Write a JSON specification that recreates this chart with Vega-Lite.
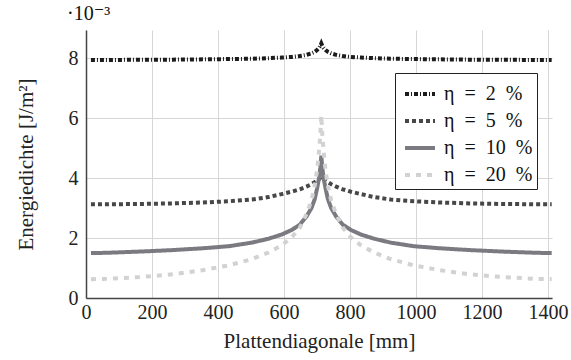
{
  "$schema": "https://vega.github.io/schema/vega-lite/v6.json",
  "width": 466,
  "height": 268,
  "autosize": {"type": "none"},
  "padding": {"left": 86, "top": 30, "right": 19, "bottom": 62},
  "background": "white",
  "config": {
    "view": {"stroke": null},
    "font": "'Liberation Serif', 'DejaVu Serif', serif",
    "legend": {
      "orient": "none",
      "legendX": 309,
      "legendY": 43,
      "strokeColor": "#222",
      "fillColor": "white",
      "padding": 4,
      "rowPadding": -1,
      "symbolType": "stroke",
      "symbolStrokeWidth": 4,
      "symbolSize": 900,
      "labelFont": "'Liberation Serif', 'DejaVu Serif', serif",
      "labelFontSize": 20,
      "labelColor": "#111",
      "labelOffset": 7,
      "symbolOffset": 4
    }
  },
  "title": {
    "text": "·10⁻³",
    "anchor": "start",
    "frame": "group",
    "dx": -19,
    "offset": 6,
    "fontSize": 20,
    "fontWeight": "normal",
    "font": "'Liberation Serif', 'DejaVu Serif', serif",
    "color": "#111"
  },
  "data": {
    "values": [
      {"x": 15, "η = 2 %": 0.00795, "η = 5 %": 0.00313, "η = 10 %": 0.00150, "η = 20 %": 0.00063},
      {"x": 63, "η = 2 %": 0.00795, "η = 5 %": 0.00313, "η = 10 %": 0.00151, "η = 20 %": 0.00064},
      {"x": 163, "η = 2 %": 0.007955, "η = 5 %": 0.00314, "η = 10 %": 0.00155, "η = 20 %": 0.00070},
      {"x": 263, "η = 2 %": 0.00796, "η = 5 %": 0.00316, "η = 10 %": 0.00160, "η = 20 %": 0.00079},
      {"x": 353, "η = 2 %": 0.00797, "η = 5 %": 0.00319, "η = 10 %": 0.00166, "η = 20 %": 0.00093},
      {"x": 433, "η = 2 %": 0.00798, "η = 5 %": 0.00323, "η = 10 %": 0.00173, "η = 20 %": 0.00109},
      {"x": 503, "η = 2 %": 0.00799, "η = 5 %": 0.00329, "η = 10 %": 0.00185, "η = 20 %": 0.00130},
      {"x": 553, "η = 2 %": 0.00801, "η = 5 %": 0.00337, "η = 10 %": 0.00198, "η = 20 %": 0.00152},
      {"x": 593, "η = 2 %": 0.00803, "η = 5 %": 0.00347, "η = 10 %": 0.00212, "η = 20 %": 0.00176},
      {"x": 623, "η = 2 %": 0.00805, "η = 5 %": 0.00355, "η = 10 %": 0.00227, "η = 20 %": 0.00202},
      {"x": 648, "η = 2 %": 0.00808, "η = 5 %": 0.00363, "η = 10 %": 0.00245, "η = 20 %": 0.00235},
      {"x": 668, "η = 2 %": 0.00812, "η = 5 %": 0.00372, "η = 10 %": 0.00272, "η = 20 %": 0.00280},
      {"x": 683, "η = 2 %": 0.00817, "η = 5 %": 0.00380, "η = 10 %": 0.00300, "η = 20 %": 0.00325},
      {"x": 693, "η = 2 %": 0.00822, "η = 5 %": 0.00387, "η = 10 %": 0.00330, "η = 20 %": 0.00375},
      {"x": 700, "η = 2 %": 0.00828, "η = 5 %": 0.00392, "η = 10 %": 0.00365, "η = 20 %": 0.00425},
      {"x": 706, "η = 2 %": 0.00835, "η = 5 %": 0.00397, "η = 10 %": 0.00400, "η = 20 %": 0.00490},
      {"x": 710, "η = 2 %": 0.00842, "η = 5 %": 0.00401, "η = 10 %": 0.00435, "η = 20 %": 0.00545},
      {"x": 713, "η = 2 %": 0.00850, "η = 5 %": 0.00405, "η = 10 %": 0.00475, "η = 20 %": 0.00610},
      {"x": 716, "η = 2 %": 0.00842, "η = 5 %": 0.00401, "η = 10 %": 0.00435, "η = 20 %": 0.00545},
      {"x": 720, "η = 2 %": 0.00835, "η = 5 %": 0.00397, "η = 10 %": 0.00400, "η = 20 %": 0.00490},
      {"x": 726, "η = 2 %": 0.00828, "η = 5 %": 0.00392, "η = 10 %": 0.00365, "η = 20 %": 0.00425},
      {"x": 733, "η = 2 %": 0.00822, "η = 5 %": 0.00387, "η = 10 %": 0.00330, "η = 20 %": 0.00375},
      {"x": 743, "η = 2 %": 0.00817, "η = 5 %": 0.00380, "η = 10 %": 0.00300, "η = 20 %": 0.00325},
      {"x": 758, "η = 2 %": 0.00812, "η = 5 %": 0.00372, "η = 10 %": 0.00272, "η = 20 %": 0.00280},
      {"x": 778, "η = 2 %": 0.00808, "η = 5 %": 0.00363, "η = 10 %": 0.00245, "η = 20 %": 0.00235},
      {"x": 803, "η = 2 %": 0.00805, "η = 5 %": 0.00355, "η = 10 %": 0.00227, "η = 20 %": 0.00202},
      {"x": 833, "η = 2 %": 0.00803, "η = 5 %": 0.00347, "η = 10 %": 0.00212, "η = 20 %": 0.00176},
      {"x": 873, "η = 2 %": 0.00801, "η = 5 %": 0.00337, "η = 10 %": 0.00198, "η = 20 %": 0.00152},
      {"x": 923, "η = 2 %": 0.00799, "η = 5 %": 0.00329, "η = 10 %": 0.00185, "η = 20 %": 0.00130},
      {"x": 993, "η = 2 %": 0.00798, "η = 5 %": 0.00323, "η = 10 %": 0.00173, "η = 20 %": 0.00109},
      {"x": 1073, "η = 2 %": 0.00797, "η = 5 %": 0.00319, "η = 10 %": 0.00166, "η = 20 %": 0.00093},
      {"x": 1163, "η = 2 %": 0.00796, "η = 5 %": 0.00316, "η = 10 %": 0.00160, "η = 20 %": 0.00079},
      {"x": 1263, "η = 2 %": 0.007955, "η = 5 %": 0.00314, "η = 10 %": 0.00155, "η = 20 %": 0.00070},
      {"x": 1363, "η = 2 %": 0.00795, "η = 5 %": 0.00313, "η = 10 %": 0.00151, "η = 20 %": 0.00064},
      {"x": 1411, "η = 2 %": 0.00795, "η = 5 %": 0.00313, "η = 10 %": 0.00150, "η = 20 %": 0.00063}
    ]
  },
  "transform": [
    {"fold": ["η = 2 %", "η = 5 %", "η = 10 %", "η = 20 %"], "as": ["eta", "E"]}
  ],
  "mark": {"type": "line", "strokeWidth": 4, "strokeCap": "butt", "clip": true},
  "encoding": {
    "x": {
      "field": "x",
      "type": "quantitative",
      "scale": {"domain": [0, 1412], "nice": false, "zero": false},
      "axis": {
        "title": "Plattendiagonale [mm]",
        "values": [0, 200, 400, 600, 800, 1000, 1200, 1400],
        "format": "d",
        "grid": true,
        "gridColor": "#d6d6d6",
        "gridWidth": 1,
        "ticks": false,
        "domainColor": "#444",
        "domainWidth": 1.5,
        "labelFont": "'Liberation Serif', 'DejaVu Serif', serif",
        "labelFontSize": 20,
        "labelColor": "#222",
        "labelPadding": 4,
        "labelFlush": false,
        "labelOverlap": false,
        "titleFont": "'Liberation Serif', 'DejaVu Serif', serif",
        "titleFontSize": 21,
        "titleFontWeight": "normal",
        "titleColor": "#222",
        "titlePadding": 8
      }
    },
    "y": {
      "field": "E",
      "type": "quantitative",
      "scale": {"domain": [0, 0.00895], "nice": false, "zero": true},
      "axis": {
        "title": "Energiedichte [J/m²]",
        "values": [0, 0.002, 0.004, 0.006, 0.008],
        "labelExpr": "format(datum.value * 1000, 'd')",
        "grid": true,
        "gridColor": "#d6d6d6",
        "gridWidth": 1,
        "ticks": false,
        "domainColor": "#444",
        "domainWidth": 1.5,
        "labelFont": "'Liberation Serif', 'DejaVu Serif', serif",
        "labelFontSize": 20,
        "labelColor": "#222",
        "labelPadding": 8,
        "labelFlush": false,
        "labelOverlap": false,
        "titleFont": "'Liberation Serif', 'DejaVu Serif', serif",
        "titleFontSize": 21,
        "titleFontWeight": "normal",
        "titleColor": "#222",
        "titlePadding": 32
      }
    },
    "color": {
      "field": "eta",
      "type": "nominal",
      "scale": {
        "domain": ["η = 2 %", "η = 5 %", "η = 10 %", "η = 20 %"],
        "range": ["#1c1c1c", "#474747", "#7a7a80", "#d2d2d2"]
      },
      "legend": {"title": null, "labelExpr": "join(split(datum.label, ' '), '\u2002')"}
    },
    "strokeDash": {
      "field": "eta",
      "type": "nominal",
      "scale": {
        "domain": ["η = 2 %", "η = 5 %", "η = 10 %", "η = 20 %"],
        "range": [[4, 2, 1, 2], [4, 3], [1, 0], [5, 6]]
      },
      "legend": {"title": null, "labelExpr": "join(split(datum.label, ' '), '\u2002')"}
    },
    "order": {"field": "eta", "sort": "ascending"}
  }
}
